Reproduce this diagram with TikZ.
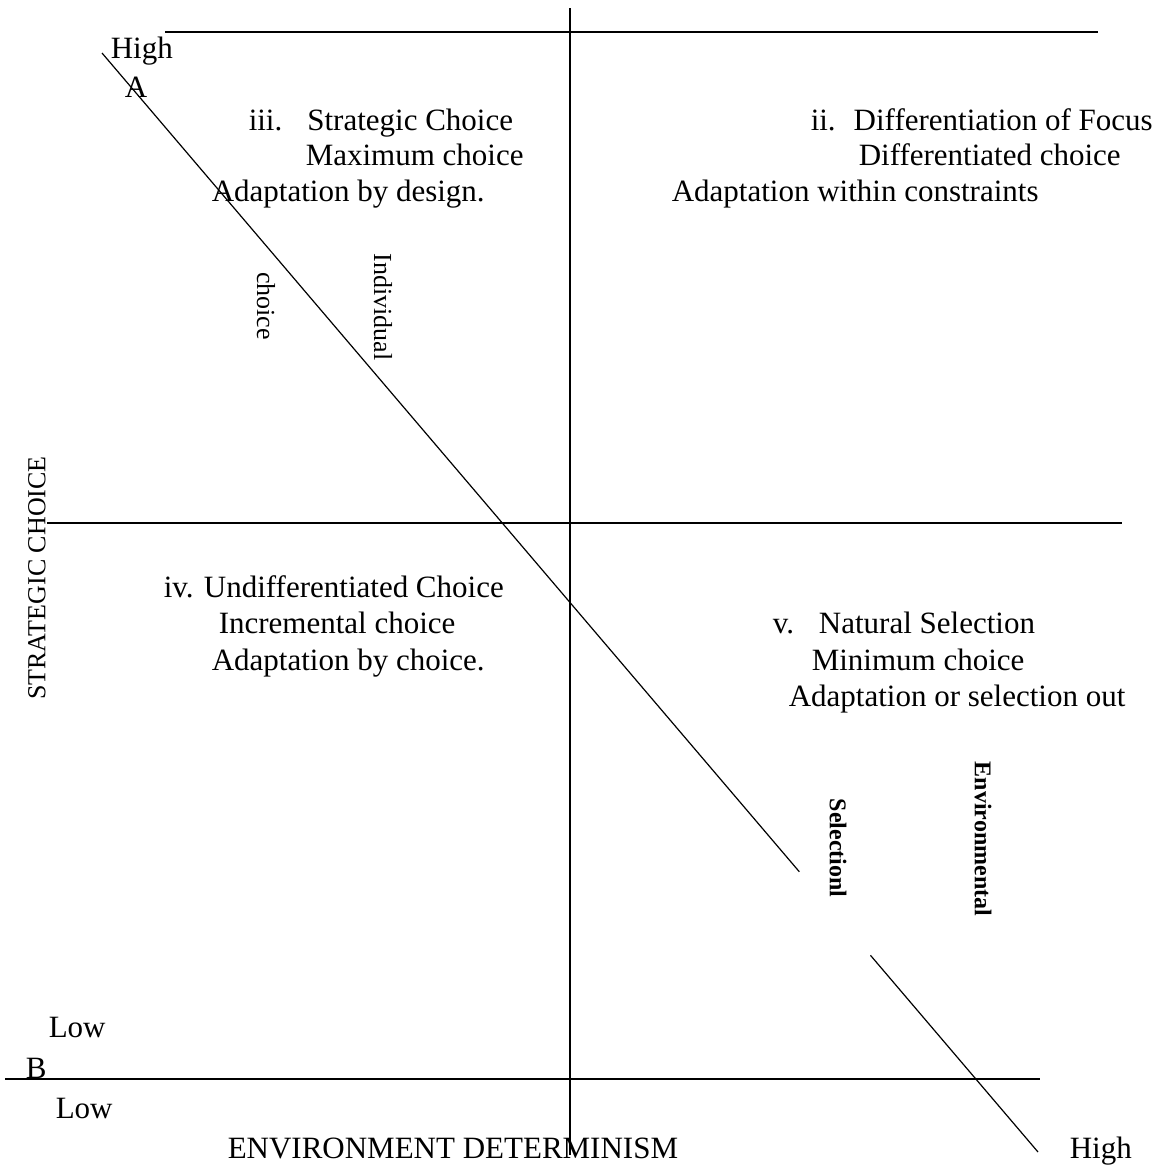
\documentclass[tikz,border=0pt]{standalone}
\usepackage{fontspec}
\setmainfont{Liberation Serif}
\usetikzlibrary{calc}

\begin{document}
\begin{tikzpicture}[x=0.5pt, y=-0.5pt, line width=0.75pt,
  every node/.style={inner sep=0pt, font=\fontsize{15.5}{18}\selectfont},
  txt/.style={anchor=base west},
  vsmall/.style={font=\fontsize{13}{15}\selectfont},
  vbold/.style={font=\fontsize{12}{14}\selectfont\bfseries, rotate=-90}]
  \useasboundingbox (0,0) rectangle (1159,1167);
  % --- axes and grid ---
  \coordinate (topL) at (165,32);   \coordinate (topR) at (1098,32);
  \coordinate (midL) at (47,523);   \coordinate (midR) at (1122,523);
  \coordinate (botL) at (5,1079);   \coordinate (botR) at (1040,1079);
  \coordinate (vT)   at (570,8);    \coordinate (vB)   at (570,1155);
  \draw[line width=1pt] (topL) -- (topR);
  \draw[line width=1pt] (midL) -- (midR);
  \draw[line width=1pt] (botL) -- (botR);
  \draw (vT) -- (vB);
  % --- diagonal A to high, broken by the label ---
  \coordinate (diagA) at (102,53);
  \coordinate (diagH) at (1038,1152);
  \draw[line width=0.6pt] (diagA) -- ($(diagA)!0.745!(diagH)$);
  \draw[line width=0.6pt] ($(diagA)!0.821!(diagH)$) -- (diagH);
  % --- corner labels ---
  \node[txt] (hiA)  at (110,58)   {High};
  \node[txt] (ptA)  at (124,97)   {A};
  \node[txt] (loB1) at (48,1037)  {Low};
  \node[txt] (ptB)  at (25,1078)  {B};
  \node[txt] (loB2) at (55,1118)  {Low};
  \node[txt] (hiB)  at (1069,1158) {High};
  % --- axis titles ---
  \node[txt] (xaxis) at (227,1158) {ENVIRONMENT DETERMINISM};
  \node[vsmall, rotate=90] (yaxis) at (37,578) {STRATEGIC CHOICE};
  % --- quadrant iii ---
  \node[txt] (q3a) at (248,130) {iii.\hspace{12.5pt}Strategic Choice};
  \node[txt] (q3b) at (305,165) {Maximum choice};
  \node[txt] (q3c) at (211,201) {Adaptation by design.};
  % --- quadrant ii ---
  \node[txt] (q2a) at (810,130) {ii.\hspace{9pt}Differentiation of Focus};
  \node[txt] (q2b) at (858,165) {Differentiated choice};
  \node[txt] (q2c) at (671,201) {Adaptation within constraints};
  % --- quadrant iv ---
  \node[txt] (q4a) at (163,597) {iv. Undifferentiated Choice};
  \node[txt] (q4b) at (218,633) {Incremental choice};
  \node[txt] (q4c) at (211,670) {Adaptation by choice.};
  % --- quadrant v ---
  \node[txt] (q5a) at (772,633) {v.\hspace{12.5pt}Natural Selection};
  \node[txt] (q5b) at (811,670) {Minimum choice};
  \node[txt] (q5c) at (788,706) {Adaptation or selection out};
  % --- labels along the diagonal ---
  \node[vsmall, rotate=-90] (ch)  at (266,306) {choice};
  \node[vsmall, rotate=-90] (ind) at (383,307) {Individual};
  \node[vbold] (selc) at (838,848) {Selectionl};
  \node[vbold] (envr) at (983,839) {Environmental};
\end{tikzpicture}
\end{document}
